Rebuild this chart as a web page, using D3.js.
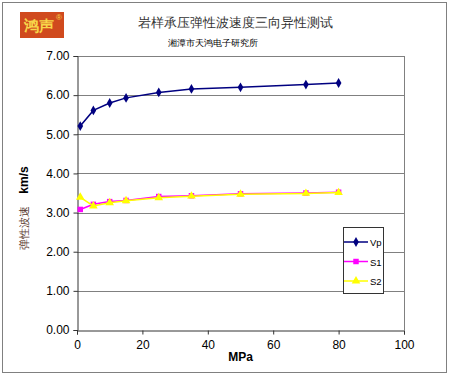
<!DOCTYPE html>
<html>
<head>
<meta charset="utf-8">
<script src="https://cdn.jsdelivr.net/npm/d3@7"></script>
<style>
  body { margin: 0; background: #fff; }
  text { font-family: "Liberation Sans", Arial, sans-serif; }
</style>
</head>
<body>
<svg id="chart" width="450" height="378"></svg>
<script>
// pressure (MPa) and wave speeds (km/s)
const pressure = [1, 5, 10, 15, 25, 35, 50, 70, 80]
const vp = [5.21, 5.61, 5.80, 5.93, 6.07, 6.16, 6.20, 6.27, 6.31]
const s1 = [3.08, 3.21, 3.28, 3.31, 3.41, 3.43, 3.48, 3.50, 3.52]
const s2 = [3.39, 3.17, 3.25, 3.30, 3.38, 3.42, 3.47, 3.49, 3.51]
const yTicks = [0, 1, 2, 3, 4, 5, 6, 7]
const xTicks = [0, 20, 40, 60, 80, 100]

const seriesList = [
  { name: "Vp", values: vp, color: "#000080", symbol: d3.symbolDiamond, size: 28 },
  { name: "S1", values: s1, color: "#ff00ff", symbol: d3.symbolSquare, size: 30 },
  { name: "S2", values: s2, color: "#ffff00", symbol: d3.symbolTriangle, size: 32 }
]

const svg = d3.select("#chart")

// outer frame
svg.append("rect")
  .attr("x", 2.5).attr("y", 2.5).attr("width", 444).attr("height", 370)
  .attr("fill", "#fff").attr("stroke", "#808080").attr("stroke-width", 1)

const margin = { left: 77, top: 56, right: 404, bottom: 330 }
const x = d3.scaleLinear().domain([0, 100]).range([margin.left, margin.right])
const y = d3.scaleLinear().domain([0, 7]).range([margin.bottom, margin.top])

// gridlines
svg.append("g")
  .selectAll("line")
  .data(yTicks.filter(d => d > 0))
  .join("line")
  .attr("x1", margin.left).attr("x2", margin.right)
  .attr("y1", d => Math.round(y(d)) + 0.5).attr("y2", d => Math.round(y(d)) + 0.5)
  .attr("stroke", "#808080")

// right border of plot area
svg.append("line")
  .attr("x1", margin.right + 0.5).attr("x2", margin.right + 0.5)
  .attr("y1", margin.top).attr("y2", margin.bottom)
  .attr("stroke", "#808080")

const yAxis = svg.append("g")
  .attr("transform", `translate(${margin.left + 0.5},0)`)
  .call(d3.axisLeft(y).tickValues(yTicks).tickFormat(d3.format(".2f")).tickSize(4).tickPadding(4))
const xAxis = svg.append("g")
  .attr("transform", `translate(0,${margin.bottom + 0.5})`)
  .call(d3.axisBottom(x).tickValues(xTicks).tickSize(4).tickPadding(6))

;[yAxis, xAxis].forEach(ax => {
  ax.select(".domain").attr("stroke", "#333")
  ax.selectAll(".tick line").attr("stroke", "#333")
  ax.selectAll("text").attr("font-size", 12).attr("fill", "#000")
    .attr("font-family", "'Liberation Sans', Arial, sans-serif")
})

// series
const line = d3.line()
  .x((d, i) => x(pressure[i]))
  .y(d => y(d))

seriesList.forEach(s => {
  svg.append("path")
    .datum(s.values)
    .attr("fill", "none")
    .attr("stroke", s.color)
    .attr("stroke-width", 1.5)
    .attr("d", line)
  svg.append("g")
    .selectAll("path")
    .data(s.values)
    .join("path")
    .attr("transform", (d, i) => `translate(${x(pressure[i])},${y(d)})`)
    .attr("d", d3.symbol(s.symbol, s.size))
    .attr("fill", s.color)
})

// legend
const legend = svg.append("g").attr("transform", "translate(343,227)")
legend.append("rect")
  .attr("x", 0.5).attr("y", 0.5).attr("width", 40).attr("height", 66)
  .attr("fill", "#fff").attr("stroke", "#333")
seriesList.forEach((s, i) => {
  const ly = 15 + i * 19.5
  legend.append("line")
    .attr("x1", 1).attr("x2", 25).attr("y1", ly).attr("y2", ly)
    .attr("stroke", s.color).attr("stroke-width", 1.5)
  legend.append("path")
    .attr("transform", `translate(13,${ly})`)
    .attr("d", d3.symbol(s.symbol, s.size))
    .attr("fill", s.color)
  legend.append("text")
    .attr("x", 27).attr("y", ly + 4)
    .attr("font-size", 9.5)
    .text(s.name)
})

// axis titles
svg.append("text")
  .attr("x", x(50)).attr("y", 361)
  .attr("text-anchor", "middle")
  .attr("font-size", 12).attr("font-weight", "bold")
  .text("MPa")

svg.append("text")
  .attr("transform", "translate(28,180) rotate(-90)")
  .attr("text-anchor", "middle")
  .attr("font-size", 12).attr("font-weight", "bold")
  .text("km/s")

svg.append("text")
  .attr("transform", "translate(28,228) rotate(-90)")
  .attr("text-anchor", "middle")
  .attr("font-size", 11).attr("fill", "#5a3a30")
  .attr("font-family", "'Noto Sans CJK SC', sans-serif")
  .text("弹性波速")

// titles
svg.append("text")
  .attr("x", 235).attr("y", 27)
  .attr("text-anchor", "middle")
  .attr("font-size", 13).attr("fill", "#333")
  .attr("font-family", "'Noto Serif CJK SC', 'Noto Sans CJK SC', serif")
  .text("岩样承压弹性波速度三向异性测试")

svg.append("text")
  .attr("x", 213).attr("y", 46)
  .attr("text-anchor", "middle")
  .attr("font-size", 9.3).attr("fill", "#000")
  .attr("font-family", "'Noto Sans CJK SC', sans-serif")
  .text("湘潭市天鸿电子研究所")

// logo
const logo = svg.append("g").attr("transform", "translate(20,12)")
logo.append("rect")
  .attr("width", 44).attr("height", 26)
  .attr("fill", "#d04a1e")
logo.append("text")
  .attr("x", 19).attr("y", 19)
  .attr("text-anchor", "middle")
  .attr("font-size", 15).attr("font-weight", "bold").attr("fill", "#f7d64a")
  .attr("font-family", "'Noto Sans CJK SC', sans-serif")
  .text("鸿声")
logo.append("text")
  .attr("x", 39).attr("y", 8)
  .attr("text-anchor", "middle")
  .attr("font-size", 8).attr("fill", "#f7d64a")
  .text("®")
</script>
</body>
</html>
